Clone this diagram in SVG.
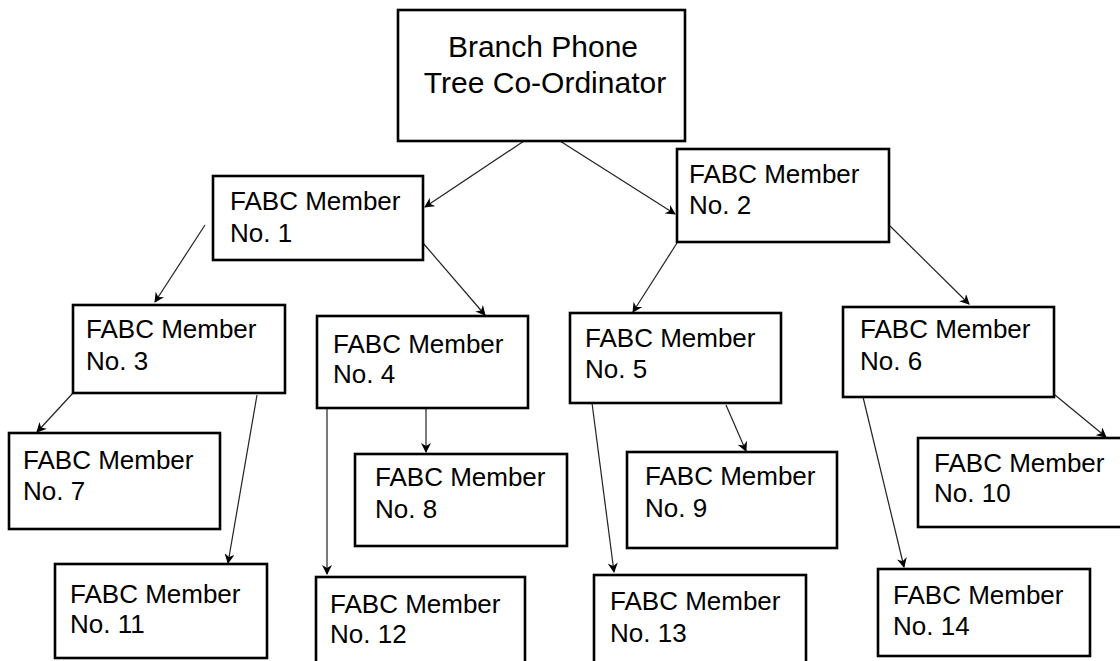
<svg xmlns="http://www.w3.org/2000/svg" width="1120" height="661" viewBox="0 0 1120 661">
<style>
.box{fill:#fff;stroke:#000;stroke-width:2.6}
.t{font-family:"Liberation Sans",Arial,sans-serif;font-size:26px;fill:#000}
.tt{font-family:"Liberation Sans",Arial,sans-serif;font-size:30px;fill:#000;text-anchor:middle}
.c{stroke:#222;stroke-width:1.2;fill:none;marker-end:url(#ah)}
</style>
<defs>
<marker id="ah" viewBox="0 0 10 10" refX="9" refY="5" markerWidth="11" markerHeight="10" markerUnits="userSpaceOnUse" orient="auto">
<path d="M0,0 L10,5 L0,10 L3,5 z" fill="#000"/>
</marker>
</defs>
<rect width="1120" height="661" fill="#fff"/>
<g id="connectors">
<line class="c" x1="524" y1="141" x2="425" y2="207"/>
<line class="c" x1="560" y1="141" x2="675" y2="214"/>
<line class="c" x1="205" y1="225" x2="155" y2="302"/>
<line class="c" x1="423" y1="243" x2="485" y2="315"/>
<line class="c" x1="677" y1="243" x2="633" y2="312"/>
<line class="c" x1="889" y1="225" x2="969" y2="304"/>
<line class="c" x1="73" y1="393" x2="37" y2="432"/>
<line class="c" x1="257" y1="395" x2="228" y2="563"/>
<line class="c" x1="327" y1="406" x2="327" y2="574"/>
<line class="c" x1="426" y1="409" x2="426" y2="452"/>
<line class="c" x1="592" y1="403" x2="614" y2="572"/>
<line class="c" x1="726" y1="405" x2="746" y2="451"/>
<line class="c" x1="863" y1="397" x2="904" y2="567"/>
<line class="c" x1="1055" y1="395" x2="1106" y2="437"/>
</g>
<g id="coordinator">
<rect class="box" x="398" y="10" width="287" height="131" stroke-width="3"/>
<text class="tt" x="543" y="57">Branch Phone</text>
<text class="tt" x="545" y="93">Tree Co-Ordinator</text>
</g>
<g id="m1">
<rect class="box" x="213" y="176" width="210" height="84"/>
<text class="t" x="230" y="210">FABC Member</text>
<text class="t" x="230" y="242">No. 1</text>
</g>
<g id="m2">
<rect class="box" x="677" y="149" width="212" height="93"/>
<text class="t" x="689" y="183">FABC Member</text>
<text class="t" x="689" y="214">No. 2</text>
</g>
<g id="m3">
<rect class="box" x="73" y="305" width="212" height="88"/>
<text class="t" x="86" y="338">FABC Member</text>
<text class="t" x="86" y="370">No. 3</text>
</g>
<g id="m4">
<rect class="box" x="317" y="316" width="211" height="92"/>
<text class="t" x="333" y="353">FABC Member</text>
<text class="t" x="333" y="383">No. 4</text>
</g>
<g id="m5">
<rect class="box" x="570" y="313" width="211" height="90"/>
<text class="t" x="585" y="347">FABC Member</text>
<text class="t" x="585" y="378">No. 5</text>
</g>
<g id="m6">
<rect class="box" x="843" y="307" width="211" height="90"/>
<text class="t" x="860" y="338">FABC Member</text>
<text class="t" x="860" y="370">No. 6</text>
</g>
<g id="m7">
<rect class="box" x="9" y="433" width="211" height="96" stroke-width="2"/>
<text class="t" x="23" y="469">FABC Member</text>
<text class="t" x="23" y="500">No. 7</text>
</g>
<g id="m8">
<rect class="box" x="355" y="454" width="212" height="92"/>
<text class="t" x="375" y="486">FABC Member</text>
<text class="t" x="375" y="518">No. 8</text>
</g>
<g id="m9">
<rect class="box" x="627" y="452" width="210" height="96"/>
<text class="t" x="645" y="485">FABC Member</text>
<text class="t" x="645" y="517">No. 9</text>
</g>
<g id="m10">
<rect class="box" x="918" y="438" width="210" height="89"/>
<text class="t" x="934" y="472">FABC Member</text>
<text class="t" x="934" y="502">No. 10</text>
</g>
<g id="m11">
<rect class="box" x="55" y="564" width="212" height="94"/>
<text class="t" x="70" y="603">FABC Member</text>
<text class="t" x="70" y="633">No. 11</text>
</g>
<g id="m12">
<rect class="box" x="316" y="577" width="209" height="95"/>
<text class="t" x="330" y="613">FABC Member</text>
<text class="t" x="330" y="643">No. 12</text>
</g>
<g id="m13">
<rect class="box" x="594" y="575" width="212" height="95"/>
<text class="t" x="610" y="610">FABC Member</text>
<text class="t" x="610" y="642">No. 13</text>
</g>
<g id="m14">
<rect class="box" x="878" y="569" width="212" height="87"/>
<text class="t" x="893" y="604">FABC Member</text>
<text class="t" x="893" y="635">No. 14</text>
</g>
</svg>
